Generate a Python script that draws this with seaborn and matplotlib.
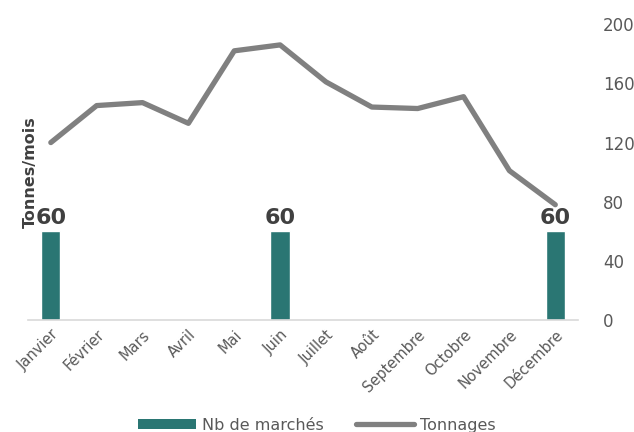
import numpy as np
import pandas as pd
import matplotlib
matplotlib.use("Agg")
import matplotlib.pyplot as plt
import seaborn as sns
from matplotlib.patches import Patch
from matplotlib.lines import Line2D

# données
mois = ['Janvier', 'Février', 'Mars', 'Avril', 'Mai', 'Juin', 'Juillet',
        'Août', 'Septembre', 'Octobre', 'Novembre', 'Décembre']
nb_marches = [60, np.nan, np.nan, np.nan, np.nan, 60, np.nan,
              np.nan, np.nan, np.nan, np.nan, 60]
tonnages = [120, 145, 147, 133, 182, 186, 161, 144, 143, 151, 101, 78]
yticks = [0, 40, 80, 120, 160, 200]

df = pd.DataFrame({'mois': mois, 'nb': nb_marches, 'tonnes': tonnages})

sns.set_style('white')
plt.rcParams['font.family'] = ['DejaVu Sans']

bar_col = '#2a7673'
line_col = '#808080'
txt_col = '#595959'

fig = plt.figure(figsize=(6.34, 4.32), dpi=100)
ax = fig.add_axes([0.044, 0.259, 0.868, 0.685])

sns.barplot(data=df, x='mois', y='nb', color=bar_col, width=0.42,
            saturation=1, ax=ax)
sns.lineplot(data=df, x='mois', y='tonnes', color=line_col, linewidth=3.8,
             sort=False, ax=ax)

# étiquettes des barres
for i, v in enumerate(nb_marches):
    if not np.isnan(v):
        ax.text(i, v + 2, f'{int(v)}', ha='center', va='bottom',
                fontsize=16, fontweight='bold', color='#404040')

ax.set_xlim(-0.5, 11.5)
ax.set_ylim(0, 200)
ax.yaxis.tick_right()
ax.set_yticks(yticks)
ax.tick_params(axis='y', length=0, labelsize=12, labelcolor=txt_col, pad=18)

ax.set_xticks(range(12))
ax.set_xticklabels(mois, rotation=45, ha='right', rotation_mode='anchor')
ax.tick_params(axis='x', length=0, labelsize=10.5, labelcolor=txt_col, pad=5)
# petites marques entre les catégories
ax.set_xticks(np.arange(-0.5, 12, 1), minor=True)
ax.tick_params(axis='x', which='minor', length=5, color='#d9d9d9', width=1)

ax.set_xlabel('')
ax.set_ylabel('Tonnes/mois', fontsize=11.5, fontweight='bold', color='#404040')
ax.yaxis.set_label_position('left')
ax.yaxis.set_label_coords(0.018, 0.5)

for s in ['top', 'left', 'right']:
    ax.spines[s].set_visible(False)
ax.spines['bottom'].set_color('#d9d9d9')
ax.spines['bottom'].set_linewidth(1.2)

handles = [Patch(facecolor=bar_col, edgecolor='none'),
           Line2D([0], [0], color=line_col, linewidth=3.8)]
fig.legend(handles, ['Nb de marchés', 'Tonnages'], loc='lower center',
           bbox_to_anchor=(0.5, -0.035), ncol=2, frameon=False,
           fontsize=11.5, labelcolor=txt_col, handlelength=3.6,
           handleheight=0.6, columnspacing=2.0, handletextpad=0.4)

fig.savefig('out.png', dpi=100)
